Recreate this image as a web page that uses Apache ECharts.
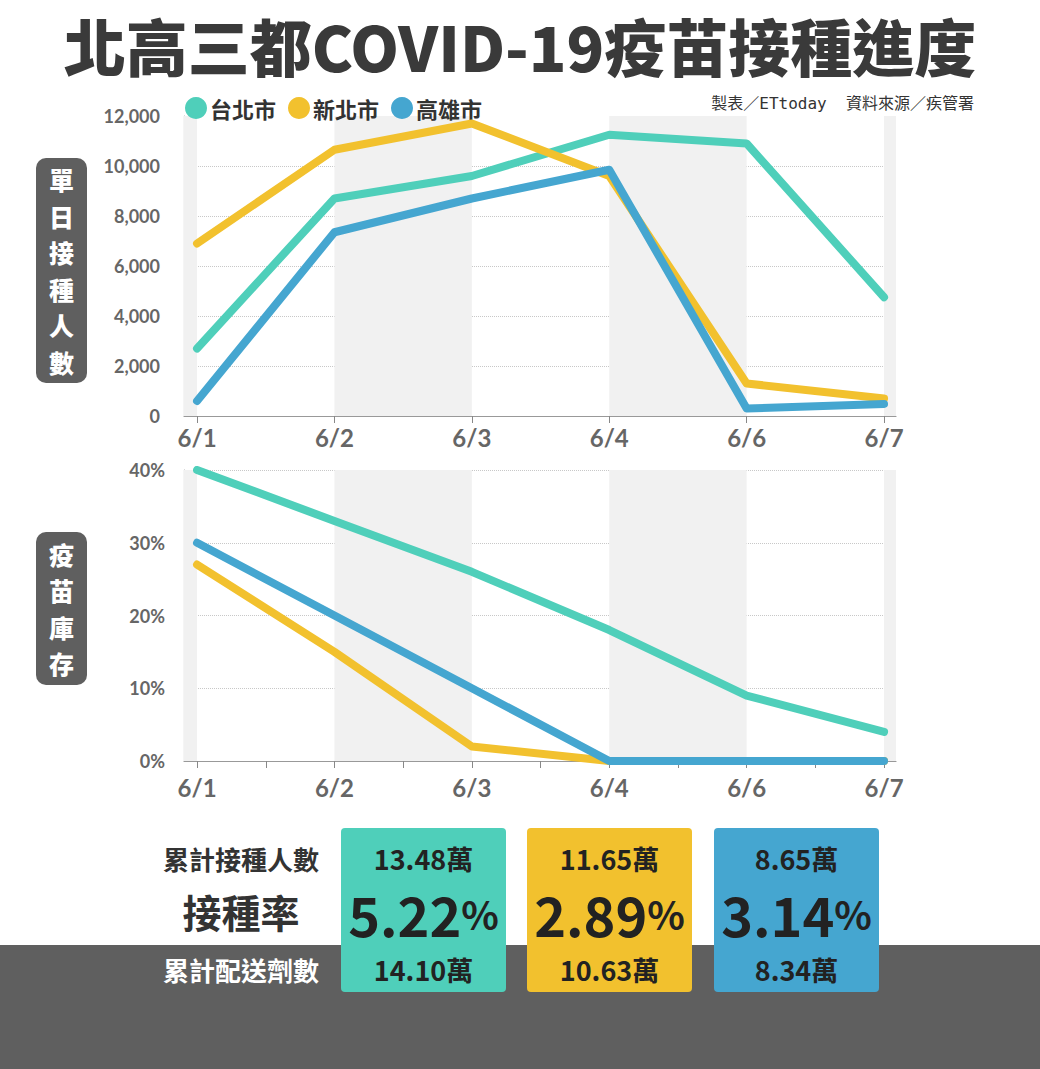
<!DOCTYPE html>
<html><head><meta charset="utf-8">
<script src="https://cdn.jsdelivr.net/npm/echarts@6/dist/echarts.min.js"></script>
<style>html,body{margin:0;padding:0;background:#fff}#c{width:1040px;height:1069px}</style>
</head><body><div id="c"></div>
<script>
const categories = ['6/1','6/2','6/3','6/4','6/6','6/7'];
const cityNames = ['台北市','新北市','高雄市'];
const cityColors = ['#4FCFBA','#F2C12E','#45A6D0'];
const taipeiDaily = [2700, 8700, 9600, 11250, 10900, 4750];
const newTaipeiDaily = [6900, 10650, 11700, 9600, 1300, 700];
const kaohsiungDaily = [600, 7350, 8700, 9850, 300, 480];
const taipeiStock = [40, 33, 26, 18, 9, 4];
const newTaipeiStock = [27, 15, 2, 0, 0, 0];
const kaohsiungStock = [30, 20, 10, 0, 0, 0];
const dailyTicks = [0, 2000, 4000, 6000, 8000, 10000, 12000];
const stockTicks = [0, 10, 20, 30, 40];
const cumulativeVaccinated = ['13.48萬','11.65萬','8.65萬'];
const vaccinationRate = ['5.22','2.89','3.14'];
const cumulativeDelivered = ['14.10萬','10.63萬','8.34萬'];

const XMIN = -0.095, XMAX = 5.087;
const CJK = '"Noto Sans CJK TC","Noto Sans",sans-serif';
const LAB = 'Lato,"Noto Sans",sans-serif';
const idx = categories.map((c,i)=>i);
const halfIdx = []; for (let i=0;i<=categories.length-1;i+=0.5) halfIdx.push(i);
const toPts = arr => arr.map((v,i)=>[i,v]);
const bands = [[XMIN,0],[1,2],[3,4],[5,XMAX]].map(b=>[{xAxis:b[0]},{xAxis:b[1]}]);

function xAxisCfg(gi, ticks, margin){
  return {type:'value', gridIndex:gi, min:XMIN, max:XMAX,
    axisLine:{show:true,onZero:false,lineStyle:{color:'#999',width:1.2}},
    axisTick:{show:true, customValues:ticks, length:7, lineStyle:{color:'#888'}},
    axisLabel:{customValues:idx, formatter:v=>categories[Math.round(v)], margin:margin,
      color:'#666', fontSize:24, fontWeight:'bold', fontFamily:LAB},
    splitLine:{show:false}};
}
function lineSeries(name, color, data, xi, yi, z){
  return {name, type:'line', xAxisIndex:xi, yAxisIndex:yi, data:toPts(data), showSymbol:false,
    lineStyle:{color, width:8, cap:'round', join:'round'}, itemStyle:{color}, z:z, silent:true, animation:false};
}

const chart = echarts.init(document.getElementById('c'), null, {renderer:'svg'});
const option = {
  animation:false,
  backgroundColor:'#fff',
  title:[
    {text:'北高三都COVID-19疫苗接種進度', left:'center', top:8,
     textStyle:{fontFamily:CJK, fontSize:62, fontWeight:900, color:'#3a3a3a', lineHeight:64}},
    {text:'製表／ETtoday  資料來源／疾管署', right:61, top:90,
     textStyle:{fontFamily:'"DejaVu Sans Mono","Noto Sans CJK TC",monospace', fontSize:16, fontWeight:'normal', color:'#333'}}
  ],
  legend:{data:cityNames, left:180, top:92, icon:'circle', itemWidth:22, itemHeight:22, itemGap:12,
    textStyle:{fontFamily:CJK, fontSize:22, fontWeight:'bold', color:'#333', padding:[0,0,0,-2]}},
  grid:[
    {left:184, right:144, top:116, bottom:653},
    {left:184, right:144, top:470, bottom:308}
  ],
  xAxis:[xAxisCfg(0, idx, 9), xAxisCfg(1, halfIdx, 14)],
  yAxis:[
    {type:'value', gridIndex:0, min:dailyTicks[0], max:dailyTicks[dailyTicks.length-1], interval:2000,
     axisLine:{show:true,onZero:false,lineStyle:{color:'#999',width:1.2}}, axisTick:{show:false},
     axisLabel:{formatter:v=>v.toLocaleString('en-US'), color:'#666', fontSize:18, fontWeight:'bold', fontFamily:LAB, margin:24},
     splitLine:{show:true, showMaxLine:false, lineStyle:{type:'dotted', color:'#c8c8c8'}}},
    {type:'value', gridIndex:1, min:stockTicks[0], max:stockTicks[stockTicks.length-1], interval:10,
     axisLine:{show:true,onZero:false,lineStyle:{color:'#999',width:1.2}}, axisTick:{show:false},
     axisLabel:{formatter:v=>v+'%', color:'#666', fontSize:18, fontWeight:'bold', fontFamily:LAB, margin:19},
     splitLine:{show:true, lineStyle:{type:'dotted', color:'#c8c8c8'}}}
  ],
  series:[
    {name:'bg1', type:'line', xAxisIndex:0, yAxisIndex:0, data:[], z:-1, silent:true,
     markArea:{silent:true, itemStyle:{color:'#f1f1f1'}, data:bands}},
    {name:'bg2', type:'line', xAxisIndex:1, yAxisIndex:1, data:[], z:-1, silent:true,
     markArea:{silent:true, itemStyle:{color:'#f1f1f1'}, data:bands}},
    lineSeries(cityNames[0], cityColors[0], taipeiDaily, 0, 0, 3),
    lineSeries(cityNames[1], cityColors[1], newTaipeiDaily, 0, 0, 4),
    lineSeries(cityNames[2], cityColors[2], kaohsiungDaily, 0, 0, 5),
    lineSeries(cityNames[0], cityColors[0], taipeiStock, 1, 1, 3),
    lineSeries(cityNames[1], cityColors[1], newTaipeiStock, 1, 1, 4),
    lineSeries(cityNames[2], cityColors[2], kaohsiungStock, 1, 1, 5)
  ],
  graphic:[]
};

const g = [];
// bottom dark band
g.push({type:'rect', shape:{x:0,y:945,width:1040,height:124}, style:{fill:'#5f5f5f'}, z:0, silent:true});
// y-axis name boxes (one text per character, stacked vertically)
function vbox(text, y, h){
  g.push({type:'rect', shape:{x:36,y:y,width:51,height:h,r:10}, style:{fill:'#5f5f5f'}, z:10});
  const chars = text.split(''), step = 36.5;
  const y0 = y + h/2 - step*(chars.length-1)/2;
  chars.forEach((ch,k)=>{
    g.push({type:'text', x:61.5, y:y0 + k*step, style:{text:ch, fill:'#fff',
      font:'900 25px '+CJK, align:'center', verticalAlign:'middle'}, z:11});
  });
}
vbox('單日接種人數', 158, 225);
vbox('疫苗庫存', 532, 153);
// left labels
g.push({type:'text', x:241, y:858, style:{text:'累計接種人數', fill:'#333', font:'bold 26px '+CJK, align:'center', verticalAlign:'middle'}, z:10});
g.push({type:'text', x:241, y:911, style:{text:'接種率', fill:'#333', font:'bold 39px '+CJK, align:'center', verticalAlign:'middle'}, z:10});
g.push({type:'text', x:241, y:969, style:{text:'累計配送劑數', fill:'#fff', font:'bold 26px '+CJK, align:'center', verticalAlign:'middle'}, z:10});
// cards
const cardX = [341, 527, 714];
cityNames.forEach((n,i)=>{
  const x = cardX[i], w = 165, cx = x + w/2;
  g.push({type:'rect', shape:{x:x,y:828,width:w,height:164,r:4}, style:{fill:cityColors[i]}, z:10});
  g.push({type:'text', x:cx, y:858, style:{text:cumulativeVaccinated[i], fill:'#222', font:'bold 27px '+CJK, align:'center', verticalAlign:'middle'}, z:11});
  g.push({type:'text', x:cx, y:913, style:{text:'{a|'+vaccinationRate[i]+'}{b|%}', align:'center', verticalAlign:'middle',
    rich:{a:{fill:'#222', font:'bold 54px '+CJK}, b:{fill:'#222', font:'bold 39px '+CJK}}}, z:11});
  g.push({type:'text', x:cx, y:969, style:{text:cumulativeDelivered[i], fill:'#222', font:'bold 27px '+CJK, align:'center', verticalAlign:'middle'}, z:11});
});
option.graphic = g;
chart.setOption(option);
</script></body></html>
